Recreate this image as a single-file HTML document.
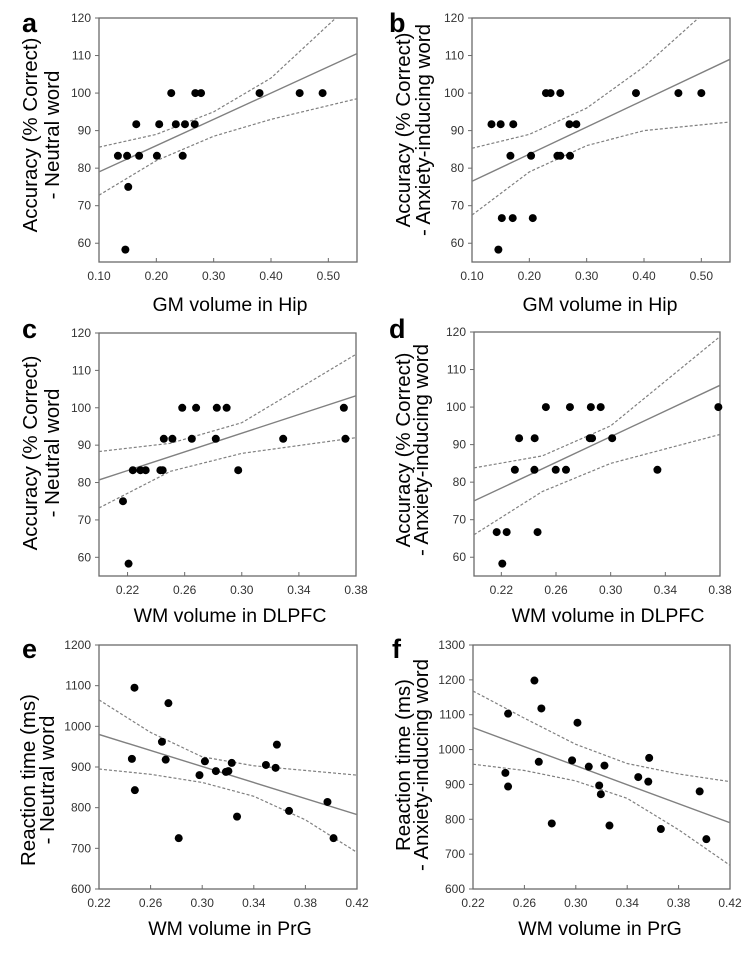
<!DOCTYPE html>
<html><head><meta charset="utf-8"><style>
html,body{margin:0;padding:0;background:#fff;}
svg{display:block;font-family:"Liberation Sans",Arial,sans-serif;}
</style></head><body>
<svg id="fig" width="756" height="956" viewBox="0 0 756 956" xmlns="http://www.w3.org/2000/svg"></svg>
<script>
// Panel a
const aX=[0.133,0.149,0.151,0.146,0.165,0.170,0.201,0.205,0.226,0.234,0.246,0.250,0.267,0.268,0.278,0.380,0.450,0.490];
const aY=[83.3,83.3,75,58.3,91.7,83.3,83.3,91.7,100,91.7,83.3,91.7,91.7,100,100,100,100,100];
const aFit=[[0.10,79],[0.55,110.5]];
const aUpX=[0.10,0.20,0.30,0.40,0.513];const aUpY=[85.6,89,95,104,120];
const aLoX=[0.10,0.20,0.30,0.40,0.55];const aLoY=[72.8,82,88.5,93,98.5];
// Panel b
const bX=[0.134,0.150,0.172,0.167,0.203,0.152,0.171,0.206,0.146,0.229,0.237,0.254,0.249,0.254,0.271,0.270,0.282,0.386,0.460,0.500];
const bY=[91.7,91.7,91.7,83.3,83.3,66.7,66.7,66.7,58.3,100,100,100,83.3,83.3,83.3,91.7,91.7,100,100,100];
const bFit=[[0.10,76.5],[0.55,109]];
const bUpX=[0.10,0.20,0.30,0.40,0.495];const bUpY=[85.3,89,96,107,120];
const bLoX=[0.10,0.20,0.30,0.40,0.55];const bLoY=[67.5,79,86,90,92.3];
// Panel c
const cX=[0.2168,0.2207,0.2237,0.229,0.2327,0.243,0.2446,0.2454,0.2514,0.2583,0.268,0.265,0.2818,0.2825,0.2894,0.2975,0.329,0.3715,0.3726];
const cY=[75,58.3,83.3,83.3,83.3,83.3,83.3,91.7,91.7,100,100,91.7,91.7,100,100,83.3,91.7,100,91.7];
const cFit=[[0.20,80.7],[0.38,103.2]];
const cUpX=[0.20,0.25,0.30,0.38];const cUpY=[88.3,90.5,96,114.3];
const cLoX=[0.20,0.25,0.30,0.38];const cLoY=[73.2,83,87.8,92];
// Panel d
const dX=[0.2166,0.2239,0.2207,0.2299,0.233,0.2444,0.2442,0.2465,0.2526,0.2598,0.2673,0.2702,0.2847,0.2864,0.2855,0.2927,0.3011,0.3342,0.3788];
const dY=[66.7,66.7,58.3,83.3,91.7,91.7,83.3,66.7,100,83.3,83.3,100,91.7,91.7,100,100,91.7,83.3,100];
const dFit=[[0.20,75],[0.38,105.8]];
const dUpX=[0.20,0.25,0.30,0.38];const dUpY=[83.8,87,95,118.8];
const dLoX=[0.20,0.25,0.30,0.38];const dLoY=[66,77.5,85,92.7];
// Panel e
const eX=[0.2475,0.2455,0.2478,0.2688,0.2738,0.2717,0.2818,0.2979,0.3021,0.3106,0.3184,0.3203,0.3229,0.327,0.3494,0.3569,0.3579,0.3673,0.3971,0.4018];
const eY=[1095,920,843,962,1057,918,725,880,914,890,888,890,910,778,905,898,955,792,814,725];
const eFit=[[0.22,980],[0.42,783]];
const eUpX=[0.22,0.26,0.30,0.34,0.42];const eUpY=[1065,985,925,903,880];
const eLoX=[0.22,0.26,0.30,0.34,0.38,0.42];const eLoY=[895,882,862,828,770,690];
// Panel f
const fX=[0.2678,0.2473,0.2732,0.3013,0.2452,0.2473,0.2712,0.2813,0.2971,0.3101,0.3223,0.3182,0.3195,0.3262,0.3486,0.3564,0.3571,0.3662,0.3964,0.4016];
const fY=[1198,1103,1118,1077,933,894,965,788,969,951,954,897,872,782,921,908,976,772,880,743];
const fFit=[[0.22,1063],[0.42,790]];
const fUpX=[0.22,0.26,0.30,0.34,0.38,0.42];const fUpY=[1168,1090,1015,960,930,908];
const fLoX=[0.22,0.26,0.30,0.34,0.38,0.42];const fLoY=[958,940,910,860,770,668];

const accTicks=[60,70,80,90,100,110,120];
const hipTicks=["0.10","0.20","0.30","0.40","0.50"];
const wmTicks=["0.22","0.26","0.30","0.34","0.38"];
const prgTicks=["0.22","0.26","0.30","0.34","0.38","0.42"];
const eTicks=[600,700,800,900,1000,1100,1200];
const fTicks=[600,700,800,900,1000,1100,1200,1300];

const NS="http://www.w3.org/2000/svg";
const svg=document.getElementById('fig');
function mk(tag,attrs,parent){const e=document.createElementNS(NS,tag);for(const k in attrs)e.setAttribute(k,attrs[k]);(parent||svg).appendChild(e);return e;}

const panels=[
 {id:'a',L:99,R:357,T:18,B:262,x0:0.10,x1:0.55,y0:55,y1:120,X:aX,Y:aY,fit:aFit,ux:aUpX,uy:aUpY,lx:aLoX,ly:aLoY,yt:accTicks,xt:hipTicks,
  letter:[22,32],xt1:"GM volume in Hip",xtPos:[230,311],yl:["Accuracy (% Correct)","- Neutral word"],ylx:[30,52],ylc:135},
 {id:'b',L:472,R:730,T:18,B:262,x0:0.10,x1:0.55,y0:55,y1:120,X:bX,Y:bY,fit:bFit,ux:bUpX,uy:bUpY,lx:bLoX,ly:bLoY,yt:accTicks,xt:hipTicks,
  letter:[389,32],xt1:"GM volume in Hip",xtPos:[600,311],yl:["Accuracy (% Correct)","- Anxiety-inducing word"],ylx:[403,423],ylc:130},
 {id:'c',L:99,R:356,T:333,B:576,x0:0.20,x1:0.38,y0:55,y1:120,X:cX,Y:cY,fit:cFit,ux:cUpX,uy:cUpY,lx:cLoX,ly:cLoY,yt:accTicks,xt:wmTicks,
  letter:[22,338],xt1:"WM volume in DLPFC",xtPos:[230,622],yl:["Accuracy (% Correct)","- Neutral word"],ylx:[30,52],ylc:453},
 {id:'d',L:474,R:720,T:332,B:576,x0:0.20,x1:0.38,y0:55,y1:120,X:dX,Y:dY,fit:dFit,ux:dUpX,uy:dUpY,lx:dLoX,ly:dLoY,yt:accTicks,xt:wmTicks,
  letter:[389,338],xt1:"WM volume in DLPFC",xtPos:[608,622],yl:["Accuracy (% Correct)","- Anxiety-inducing word"],ylx:[403,421],ylc:450},
 {id:'e',L:99,R:357,T:645,B:889,x0:0.22,x1:0.42,y0:600,y1:1200,X:eX,Y:eY,fit:eFit,ux:eUpX,uy:eUpY,lx:eLoX,ly:eLoY,yt:eTicks,xt:prgTicks,
  letter:[22,658],xt1:"WM volume in PrG",xtPos:[230,935],yl:["Reaction time (ms)","- Neutral word"],ylx:[28,47],ylc:780},
 {id:'f',L:473,R:730,T:645,B:889,x0:0.22,x1:0.42,y0:600,y1:1300,X:fX,Y:fY,fit:fFit,ux:fUpX,uy:fUpY,lx:fLoX,ly:fLoY,yt:fTicks,xt:prgTicks,
  letter:[392,658],xt1:"WM volume in PrG",xtPos:[600,935],yl:["Reaction time (ms)","- Anxiety-inducing word"],ylx:[403,421],ylc:765}
];

panels.forEach(p=>{
  const sx=v=>p.L+(v-p.x0)/(p.x1-p.x0)*(p.R-p.L);
  const sy=v=>p.B-(v-p.y0)/(p.y1-p.y0)*(p.B-p.T);
  const g=mk('g',{});
  
  
  const clipId='clip'+p.id;
  const cp=mk('clipPath',{id:clipId},g);mk('rect',{x:p.L,y:p.T,width:p.R-p.L,height:p.B-p.T},cp);
  const box=mk('rect',{x:p.L,y:p.T,width:p.R-p.L,height:p.B-p.T,fill:'none',stroke:'#6a6a6a','stroke-width':1.3},g);
  
  
  p.yt.forEach(t=>{
    const y=sy(t);
    mk('line',{x1:p.L-4,x2:p.L,y1:y,y2:y,stroke:'#6a6a6a','stroke-width':1},g);
    const tx=mk('text',{x:p.L-8,y:y+4,'text-anchor':'end','font-size':12,fill:'#333'},g);
    tx.textContent=t;
    
    
  });
  p.xt.forEach(t=>{
    const x=sx(parseFloat(t));
    mk('line',{x1:x,x2:x,y1:p.B,y2:p.B-4,stroke:'#6a6a6a','stroke-width':1},g);
    const tx=mk('text',{x:x,y:p.B+18,'text-anchor':'middle','font-size':12,fill:'#333'},g);
    tx.textContent=t;
    
    
  });
  const cg=mk('g',{'clip-path':'url(#'+clipId+')'},g);
  const fl=mk('line',{x1:sx(p.fit[0][0]),y1:sy(p.fit[0][1]),x2:sx(p.fit[1][0]),y2:sy(p.fit[1][1]),stroke:'#808080','stroke-width':1.4},cg);
  
  
  [[p.ux,p.uy,'ci-upper'],[p.lx,p.ly,'ci-lower']].forEach(([xs,ys,nm])=>{
    const pts=xs.map((x,i)=>[sx(x),sy(ys[i])]);
    let d='M'+pts[0][0]+','+pts[0][1];
    for(let i=1;i<pts.length;i++)d+=' L'+pts[i][0]+','+pts[i][1];
    const pa=mk('path',{d:d,fill:'none',stroke:'#808080','stroke-width':1.2,'stroke-dasharray':'3,2'},cg);
    
    
  });
  p.X.forEach((x,i)=>{
    const c=mk('circle',{cx:sx(x),cy:sy(p.Y[i]),r:4,fill:'#000'},g);
    
    
  });
  const lt=mk('text',{x:p.letter[0],y:p.letter[1],'font-size':27,'font-weight':'bold',fill:'#000'},g);
  lt.textContent=p.id;
  
  
  const xt=mk('text',{x:p.xtPos[0],y:p.xtPos[1],'text-anchor':'middle','font-size':19.5,fill:'#000'},g);
  xt.textContent=p.xt1;
  
  
  p.yl.forEach((s,k)=>{
    const x=p.ylx[k]+7;
    const t=mk('text',{x:x,y:p.ylc,'text-anchor':'middle','font-size':20.5,fill:'#000',transform:'rotate(-90 '+x+' '+p.ylc+')'},g);
    t.textContent=s;
    
    
  });
});
</script>
</body></html>
